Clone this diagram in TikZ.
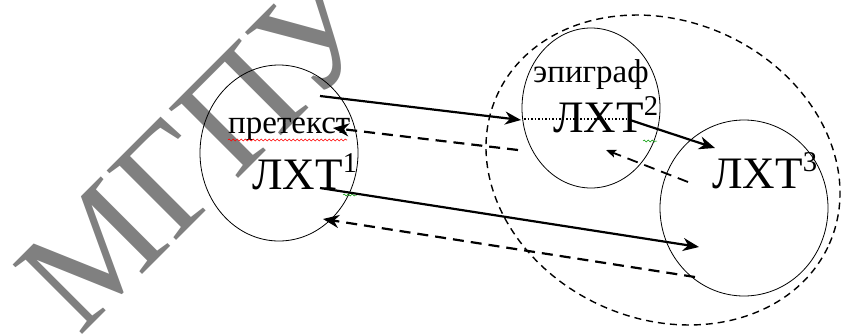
\documentclass[tikz,border=0pt]{standalone}
\usepackage{fontspec}
\setmainfont{Liberation Serif}
\usetikzlibrary{arrows.meta,shapes.geometric,decorations.pathmorphing}

% raised index after a label
\newcommand\upidx[1]{\raisebox{0.36em}{\fontsize{21}{21}\selectfont #1}}

\begin{document}
\begin{tikzpicture}[x=1pt,y=-1pt,
  ring/.style={draw, ellipse, line width=0.8pt, inner sep=0pt},
  outerring/.style={draw, ellipse, line width=1.4pt, dash pattern=on 7pt off 5pt, inner sep=0pt},
  lbl/.style={anchor=base west, inner sep=0pt, font=\fontsize{33}{38}\selectfont},
  biglbl/.style={anchor=base west, inner sep=0pt, scale=1.364, font=\fontsize{33}{38}\selectfont},
  tip/.style={-{Stealth[length=16pt,width=13pt,inset=5pt]}},
  fwd/.style={tip, line width=2.2pt},
  back/.style={tip, line width=2.2pt, dash pattern=on 11pt off 7pt},
  backsmall/.style={line width=1.8pt, dash pattern=on 11pt off 7pt, -{Stealth[length=10pt,width=8pt,inset=2pt]}},
  link/.style={line width=1.4pt, dash pattern=on 1.5pt off 2pt},
  spell/.style={decorate, decoration={snake, segment length=4pt, amplitude=1pt}, line width=0.6pt},
]
\useasboundingbox (0,0) rectangle (841,335);

% watermark
\node[rotate=45, scale=4.545, anchor=base west, inner sep=0pt, text=black!50,
      font=\fontsize{33}{33}\selectfont] (mark) at (79,338) {МГПУ};

% outer dashed field and the three text circles
\node[outerring, minimum width=364pt, minimum height=298pt, rotate=-24] (field) at (663,170) {};
\node[ring, minimum width=158pt, minimum height=176pt] (c1) at (279,153) {};
\node[ring, minimum width=138pt, minimum height=160pt] (c2) at (591,108) {};
\node[ring, minimum width=168pt, minimum height=176pt] (c3) at (744,208) {};

% labels
\node[lbl] (pre) at (228,133) {претекст};
\node[biglbl] (t1) at (252,189) {ЛХТ\upidx{1}};
\node[lbl] (epi) at (533,82) {эпиграф};
\node[biglbl] (t2) at (553,132) {ЛХТ\upidx{2}};
\node[biglbl] (t3) at (712,188) {ЛХТ\upidx{3}};

% spelling marks
\coordinate (sp1) at (228,140); \coordinate (sp2) at (347,140);
\draw[spell, red] (sp1) -- (sp2);
\coordinate (g1) at (343,195); \coordinate (g2) at (357,195);
\draw[spell, green!60!black, line width=0.5pt] (g1) -- (g2);
\coordinate (g3) at (643,141); \coordinate (g4) at (657,141);
\draw[spell, green!60!black, line width=0.5pt] (g3) -- (g4);

% connector end points
\coordinate (a1s) at (320,96);  \coordinate (a1e) at (521,120);
\coordinate (d1s) at (524,119); \coordinate (d1e) at (630,119);
\coordinate (a2s) at (630,120); \coordinate (a2e) at (715,148);
\coordinate (b1s) at (518,150); \coordinate (b1e) at (333,128);
\coordinate (b2s) at (688,182); \coordinate (b2e) at (606,150);
\coordinate (a3s) at (320,188); \coordinate (a3e) at (699,247);
\coordinate (b3s) at (695,277); \coordinate (b3e) at (323,219);

% connectors
\draw[fwd] (a1s) -- (a1e);
\draw[link] (d1s) -- (d1e);
\draw[fwd] (a2s) -- (a2e);
\draw[back] (b1s) -- (b1e);
\draw[backsmall] (b2s) -- (b2e);
\draw[fwd] (a3s) -- (a3e);
\draw[back] (b3s) -- (b3e);
\end{tikzpicture}
\end{document}
